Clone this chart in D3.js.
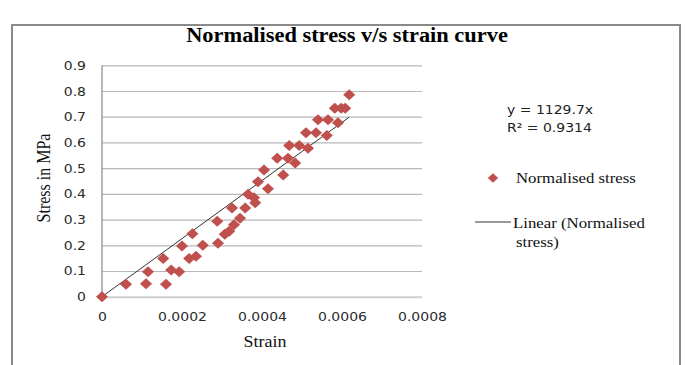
<!DOCTYPE html>
<html>
<head>
<meta charset="utf-8">
<script src="https://cdn.jsdelivr.net/npm/d3@7"></script>
<style>
  body { margin: 0; background: #fff; }
</style>
</head>
<body>
<svg id="chart" width="686" height="365"></svg>
<script>
// Measured strain / normalised stress pairs
const strain = [
  0, 0.00006, 0.00011, 0.000115, 0.00016, 0.000153, 0.000173, 0.000193,
  0.0002, 0.000218, 0.000226, 0.000235, 0.000252, 0.00029, 0.000288, 0.000307,
  0.000318, 0.000325, 0.00033, 0.000345, 0.000358, 0.000365, 0.00038, 0.000383,
  0.00039, 0.000405, 0.000415, 0.000438, 0.000453, 0.000465, 0.000483, 0.000468,
  0.000493, 0.000515, 0.00051, 0.000535, 0.000562, 0.00054, 0.000565, 0.00059,
  0.000582, 0.000598, 0.000608, 0.000618
];
const stress = [
  0, 0.048, 0.05, 0.097, 0.048, 0.149, 0.104, 0.097,
  0.197, 0.149, 0.245, 0.157, 0.2, 0.208, 0.293, 0.243,
  0.255, 0.345, 0.28, 0.305, 0.345, 0.398, 0.385, 0.365,
  0.447, 0.493, 0.42, 0.538, 0.473, 0.538, 0.52, 0.588,
  0.588, 0.577, 0.638, 0.638, 0.627, 0.688, 0.688, 0.677,
  0.733, 0.733, 0.733, 0.785
];

const xTicks = [0, 0.0002, 0.0004, 0.0006, 0.0008];
const xTickLabels = ["0", "0.0002", "0.0004", "0.0006", "0.0008"];
const yTicks = [0, 0.1, 0.2, 0.3, 0.4, 0.5, 0.6, 0.7, 0.8, 0.9];
const yTickLabels = ["0", "0.1", "0.2", "0.3", "0.4", "0.5", "0.6", "0.7", "0.8", "0.9"];

const trendSlope = 1129.7;
const trendR2 = "0.9314";
const chartTitle = "Normalised stress v/s strain curve";
const xTitle = "Strain";
const yTitle = "Stress in MPa";
const seriesName = "Normalised stress";
const trendName = ["Linear (Normalised", "stress)"];

// ---- layout & style ----
const SANS = "'DejaVu Sans', 'Open Sans', sans-serif";
const SERIF = "'Liberation Serif', 'Times New Roman', serif";
const SX = 1.12;             // slight horizontal widening of the lettering
const RED = "#C0504D";

const svg = d3.select("#chart");
const plot = { left: 102, right: 422, top: 65.3, bottom: 296.7 };

const x = d3.scaleLinear().domain([0, 0.0008]).range([plot.left, plot.right]);
const y = d3.scaleLinear().domain([0, 0.9]).range([plot.bottom, plot.top]);

// chart frame
svg.append("rect")
  .attr("x", 12).attr("y", 25).attr("width", 668).attr("height", 360)
  .attr("fill", "none").attr("stroke", "#8a8a8a").attr("stroke-width", 2);

// horizontal gridlines
const grid = svg.append("g")
  .attr("transform", `translate(${plot.left},0)`)
  .call(d3.axisLeft(y).tickValues(yTicks).tickSize(-(plot.right - plot.left)).tickFormat(""));
grid.select(".domain").remove();
grid.selectAll(".tick line")
  .attr("stroke", d => d === 0 ? "#cfcfcf" : "#b8b8b8")
  .attr("stroke-width", d => d === 0 ? 2 : 1.2);

// vertical axis line
svg.append("line")
  .attr("x1", plot.left).attr("x2", plot.left)
  .attr("y1", plot.top).attr("y2", plot.bottom)
  .attr("stroke", "#888").attr("stroke-width", 1.2);

// y tick labels
const yAxis = svg.append("g")
  .attr("transform", `translate(${plot.left},0)`)
  .call(d3.axisLeft(y).tickValues(yTicks).tickSize(0).tickPadding(16)
    .tickFormat((d, i) => yTickLabels[i]));
yAxis.select(".domain").remove();
yAxis.selectAll("text")
  .attr("font-family", SANS).attr("font-size", 12.5).attr("fill", "#2a2a2a")
  .attr("x", -16 / SX)
  .attr("transform", `scale(${SX},1)`);

// x tick labels
const xAxis = svg.append("g")
  .attr("transform", `translate(0,${plot.bottom})`)
  .call(d3.axisBottom(x).tickValues(xTicks).tickSize(0)
    .tickFormat((d, i) => xTickLabels[i]));
xAxis.select(".domain").remove();
xAxis.selectAll("text")
  .attr("font-family", SANS).attr("font-size", 12.5).attr("fill", "#2a2a2a")
  .attr("y", 24.5).attr("dy", null)
  .attr("transform", `scale(${SX},1)`);

// linear trendline through the origin
const xMax = d3.max(strain);
const trend = [0, xMax].map(v => [v, trendSlope * v]);
svg.append("path")
  .datum(trend)
  .attr("d", d3.line().x(d => x(d[0])).y(d => y(d[1])))
  .attr("fill", "none").attr("stroke", "#333").attr("stroke-width", 1);

// diamond marker symbol
const diamond = {
  draw(ctx, size) {
    const w = Math.sqrt(size) * 0.55, h = Math.sqrt(size) * 0.5;
    ctx.moveTo(0, -h); ctx.lineTo(w, 0); ctx.lineTo(0, h); ctx.lineTo(-w, 0); ctx.closePath();
  }
};
const points = strain.map((s, i) => ({ s, v: stress[i] }));
svg.append("g").selectAll("path")
  .data(points)
  .join("path")
  .attr("transform", d => `translate(${x(d.s)},${y(d.v)})`)
  .attr("d", d3.symbol(diamond, 121))
  .attr("fill", RED);

// helper for widened text
function label(txt, px, py, opts) {
  const t = svg.append("text")
    .attr("transform", `translate(${px},${py}) scale(${SX},1)`)
    .attr("font-family", opts.family).attr("font-size", opts.size)
    .attr("font-weight", opts.weight || "normal")
    .attr("text-anchor", opts.anchor || "start")
    .attr("fill", opts.fill || "#111")
    .text(txt);
  return t;
}

// title
label(chartTitle, 347, 42, { family: SERIF, size: 20, weight: "bold", anchor: "middle", fill: "#000" });

// axis titles
label(xTitle, 265, 347, { family: SERIF, size: 16, anchor: "middle" });
svg.append("text")
  .attr("transform", `translate(50,178) rotate(-90) scale(1,${SX})`)
  .attr("font-family", SERIF).attr("font-size", 16)
  .attr("text-anchor", "middle").attr("fill", "#111")
  .text(yTitle);

// trendline equation
label(`y = ${trendSlope}x`, 507, 114, { family: SANS, size: 12.5, fill: "#222" });
label(`R² = ${trendR2}`, 507, 132, { family: SANS, size: 12.5, fill: "#222" });

// legend
svg.append("path")
  .attr("transform", "translate(493,178)")
  .attr("d", d3.symbol(diamond, 90))
  .attr("fill", RED);
label(seriesName, 516, 183, { family: SERIF, size: 15 });

svg.append("line")
  .attr("x1", 475).attr("x2", 511).attr("y1", 222).attr("y2", 222)
  .attr("stroke", "#333").attr("stroke-width", 1);
label(trendName[0], 513, 227.5, { family: SERIF, size: 15 });
label(trendName[1], 516, 247, { family: SERIF, size: 15 });
</script>
</body>
</html>
